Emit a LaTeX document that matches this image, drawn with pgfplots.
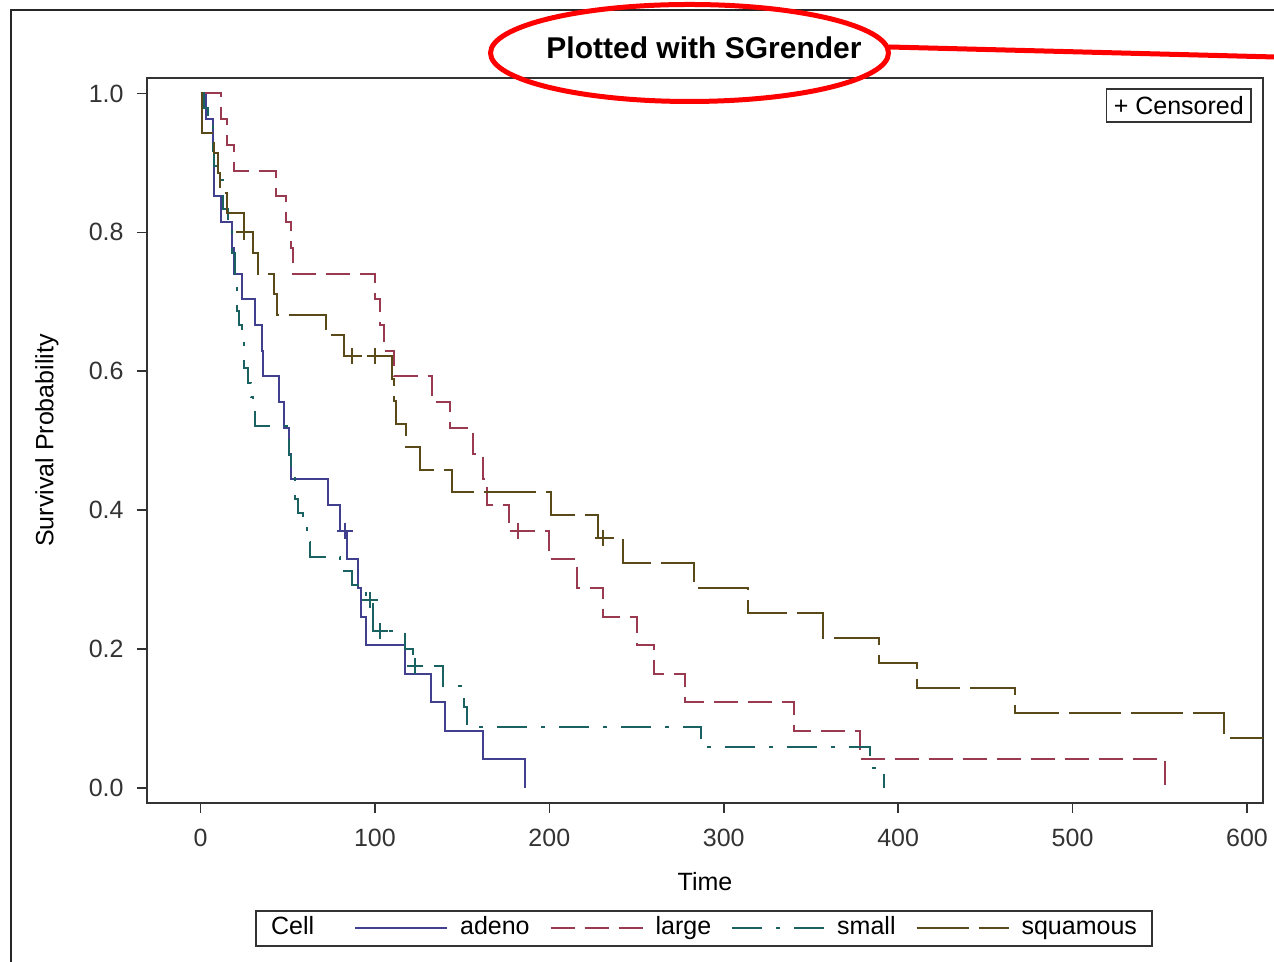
\documentclass[border=0pt]{standalone}
\usepackage{fontspec}
\setmainfont{Liberation Sans}
\usepackage{pgfplots}
\pgfplotsset{compat=1.18}

\definecolor{cadeno}{HTML}{40408F}
\definecolor{clarge}{HTML}{9A3A50}
\definecolor{csmall}{HTML}{1A6262}
\definecolor{csquam}{HTML}{5A4A1A}
\definecolor{cframe}{HTML}{333333}

\newcommand{\lbl}{\fontsize{12.5}{15}\selectfont}

\begin{document}
\begin{tikzpicture}
\useasboundingbox (-73.5pt,-79.5pt) rectangle (563.5pt,401.5pt);
\begin{axis}[
    at={(0pt,0pt)}, anchor=south west,
    scale only axis,
    width=558pt, height=362.5pt,
    xmin=-30.7, xmax=609.2,
    ymin=-0.0216, ymax=1.0223,
    axis line style={cframe, line width=0.8pt},
    tick style={cframe, line width=0.8pt},
    tick align=outside, tick pos=left,
    major tick length=5pt,
    xtick={0,100,...,600},
    ytick={0,0.2,...,1.0},
    minor tick num=0,
    /pgf/number format/assume math mode=true,
    tick label style={font=\lbl, text=black!80},
    xticklabel style={anchor=base, inner sep=0pt, yshift=-17pt},
    yticklabel style={/pgf/number format/fixed, /pgf/number format/fixed zerofill,
        /pgf/number format/precision=1, anchor=east, inner sep=0pt, xshift=-6.5pt},
    xlabel={Time}, ylabel={Survival Probability},
    every axis x label/.style={at={(axis description cs:0.5,-0.109)}, anchor=center, font=\lbl},
    every axis y label/.style={at={(axis description cs:-0.0896,0.5)}, rotate=90, anchor=center, font=\lbl},
    legend columns=-1,
    legend cell align=left,
    legend style={at={(axis description cs:0.4991,-0.1731)}, anchor=center,
        draw=black!80, line width=0.8pt, font=\lbl, inner xsep=1.5pt, inner ysep=1pt,
        nodes={text height=9pt, text depth=2.5pt, inner ysep=2pt},
        /tikz/every odd column/.append style={column sep=4pt},
        /tikz/every even column/.append style={column sep=8pt}},
    legend image code/.code={\draw[#1, line width=1pt] (0pt,0pt) -- (46pt,0pt);},
    every axis plot/.append style={line width=1pt},
]
\addlegendimage{empty legend}
\addlegendentry{Cell\rule{10pt}{0pt}}

% adeno
\addplot[cadeno, const plot, mark=none] coordinates {
(0,1) (3,0.9630) (7,0.9259) (8,0.8519) (12,0.8148) (18,0.7778) (19,0.7407)
(24,0.7037) (31,0.6667) (35,0.6296) (36,0.5926) (45,0.5556) (48,0.5185)
(51,0.4815) (52,0.4444) (73,0.4074) (80,0.3704) (84,0.3292) (90,0.2881)
(92,0.2469) (95,0.2058) (117,0.1646) (132,0.1235) (140,0.0823) (162,0.0412) (186,0)
};
\addlegendentry{adeno}

% large
\addplot[clarge, const plot, mark=none, dash pattern=on 12pt off 5pt] coordinates {
(0,1) (12,0.9630) (15,0.9259) (19,0.8889) (43,0.8519) (49,0.8148) (52,0.7778)
(53,0.7407) (100,0.7037) (103,0.6667) (105,0.6296) (111,0.5926) (133,0.5556)
(143,0.5185) (156,0.4815) (162,0.4444) (164,0.4074) (177,0.3704) (200,0.3292)
(216,0.2881) (231,0.2469) (250,0.2058) (260,0.1646) (278,0.1235) (340,0.0823)
(378,0.0412) (553,0)
};
\addlegendentry{large}

% small
\addplot[csmall, const plot, mark=none, dash pattern=on 15pt off 7pt on 2pt off 7pt] coordinates {
(0,1) (2,0.9792) (4,0.9583) (7,0.9167) (8,0.8958) (10,0.875) (13,0.8333)
(16,0.8125) (18,0.7708) (20,0.7292) (21,0.6875) (22,0.6667) (24,0.6458)
(25,0.6042) (27,0.5833) (29,0.5625) (30,0.5417) (31,0.5208) (51,0.4792)
(52,0.4583) (54,0.4167) (56,0.3958) (59,0.375) (61,0.3542) (63,0.3333)
(80,0.3125) (87,0.2917) (95,0.2708) (99,0.2257) (117,0.2006) (122,0.1755)
(139,0.1463) (151,0.1170) (153,0.0878) (287,0.0585) (384,0.0293) (392,0)
};
\addlegendentry{small}

% squamous
\addplot[csquam, const plot, mark=none, dash pattern=on 26pt off 5pt] coordinates {
(0,1) (1,0.9429) (8,0.9143) (10,0.8857) (11,0.8571) (15,0.8286) (25,0.8)
(30,0.7704) (33,0.7407) (42,0.7111) (44,0.6815) (72,0.6519) (82,0.6222)
(110,0.5895) (111,0.5567) (112,0.5240) (118,0.4912) (126,0.4585) (144,0.4257)
(201,0.3930) (228,0.3602) (242,0.3242) (283,0.2882) (314,0.2522) (357,0.2161)
(389,0.1801) (411,0.1441) (467,0.1081) (587,0.0721) (991,0.0360) (999,0)
};
\addlegendentry{squamous\rule{4pt}{0pt}}

% censored observations
\addplot[cadeno, only marks, mark=+, mark size=4pt, forget plot] coordinates {(83,0.3704)};
\addplot[clarge, only marks, mark=+, mark size=4pt, forget plot] coordinates {(182,0.3704)};
\addplot[csmall, only marks, mark=+, mark size=4pt, forget plot] coordinates {(97,0.2708) (103,0.2257) (123,0.1755)};
\addplot[csquam, only marks, mark=+, mark size=4pt, forget plot] coordinates {(25,0.8) (87,0.6222) (100,0.6222) (231,0.3602)};
\end{axis}

% inset key
\node[draw=black!80, line width=0.8pt, anchor=north east, inner xsep=3.7pt,
      minimum height=16.5pt, font=\lbl] at (552.5pt,357.5pt) {+ Censored};
% title
\node[font=\fontsize{15}{18}\selectfont\bfseries] at (278.5pt,377.5pt) {Plotted with SGrender};
% outer graph border
\draw[black!85, line width=0.9pt] (-68pt,-80pt) -- (-68pt,396.5pt) -- (564pt,396.5pt);
% red annotation
\draw[red, line width=2.5pt] (271.25pt,375pt) ellipse [x radius=99.5pt, y radius=24.25pt];
\draw[red, line width=2.5pt] (371pt,378pt) -- (564pt,373pt);
\end{tikzpicture}
\end{document}
